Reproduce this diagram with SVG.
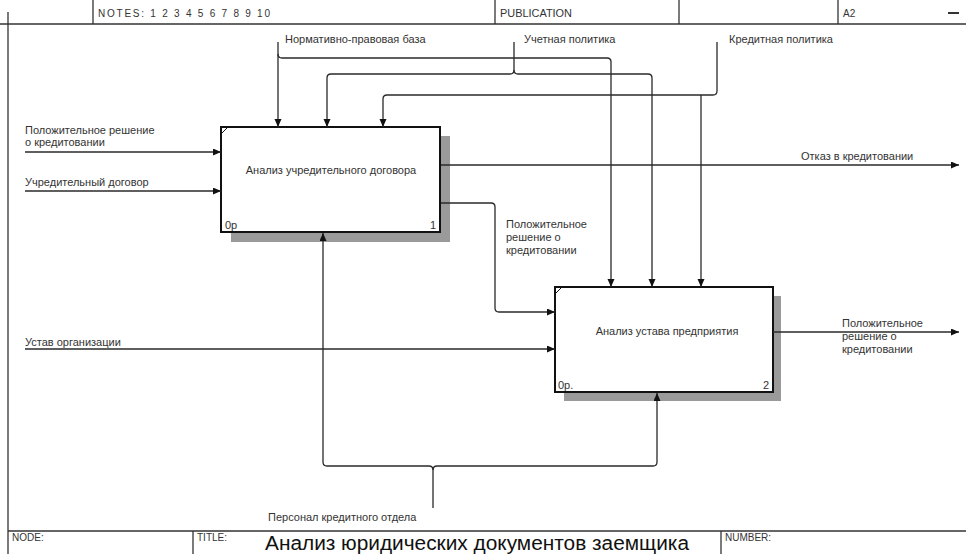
<svg xmlns="http://www.w3.org/2000/svg" width="966" height="554" viewBox="0 0 966 554">
  <style>
    .frame { stroke: #333; stroke-width: 1.3; fill: none; }
    .conn { stroke: #2a2a2a; stroke-width: 1.3; fill: none; }
    .box { fill: #fff; stroke: #111; stroke-width: 2; }
    .shadow { fill: #9a9a9a; }
    .lbl { font-family: "Liberation Sans", Arial, sans-serif; font-size: 11px; fill: #333; }
    .hdr { font-family: "Liberation Sans", Arial, sans-serif; font-size: 10px; fill: #333; }
    .title { font-family: "Liberation Sans", Arial, sans-serif; font-size: 20px; fill: #111; }
  </style>
  <defs>
    <marker id="arr" markerUnits="userSpaceOnUse" markerWidth="9" markerHeight="8" refX="8" refY="3.5" orient="auto">
      <path d="M0,0 L8,3.5 L0,7 z" fill="#111"/>
    </marker>
  </defs>

  <!-- drawing frame: header and footer -->
  <g id="frame">
    <line class="frame" x1="0" y1="24" x2="966" y2="24"/>
    <line class="frame" x1="8" y1="12" x2="8" y2="554"/>
    <line class="frame" x1="93" y1="0" x2="93" y2="24"/>
    <line class="frame" x1="495" y1="0" x2="495" y2="24"/>
    <line class="frame" x1="679" y1="0" x2="679" y2="24"/>
    <line class="frame" x1="838" y1="0" x2="838" y2="24"/>
    <line x1="948" y1="13" x2="959" y2="13" stroke="#333" stroke-width="2"/>
    <text class="hdr" x="98" y="17" textLength="172" lengthAdjust="spacing">NOTES: 1 2 3 4 5 6 7 8 9 10</text>
    <text class="hdr" x="500" y="17" textLength="72" lengthAdjust="spacingAndGlyphs">PUBLICATION</text>
    <text class="hdr" x="843" y="17">A2</text>
    <line class="frame" x1="8" y1="531" x2="966" y2="531"/>
    <line class="frame" x1="193" y1="531" x2="193" y2="554"/>
    <line class="frame" x1="721" y1="531" x2="721" y2="554"/>
    <text class="hdr" x="12" y="541" font-size="9">NODE:</text>
    <text class="hdr" x="197" y="541" font-size="9">TITLE:</text>
    <text class="hdr" x="725" y="541" font-size="9">NUMBER:</text>
    <text class="title" x="265" y="550" textLength="424" lengthAdjust="spacingAndGlyphs">Анализ юридических документов заемщика</text>
  </g>

  <!-- activity 1 -->
  <g id="node-1">
    <rect class="shadow" x="231" y="136" width="219" height="106"/>
    <rect class="box" x="221" y="127" width="219" height="105"/>
    <line x1="222" y1="133" x2="227" y2="128" stroke="#111" stroke-width="1"/>
    <text class="lbl" x="331" y="174" text-anchor="middle" font-size="10.4">Анализ учредительного договора</text>
    <text class="lbl" x="225" y="229" font-size="9">0р</text>
    <text class="lbl" x="436" y="229" font-size="9" text-anchor="end">1</text>
  </g>

  <!-- activity 2 -->
  <g id="node-2">
    <rect class="shadow" x="564" y="296" width="217" height="105"/>
    <rect class="box" x="555" y="287" width="218" height="105"/>
    <line x1="556" y1="293" x2="561" y2="288" stroke="#111" stroke-width="1"/>
    <text class="lbl" x="667" y="335" text-anchor="middle" font-size="10.4">Анализ устава предприятия</text>
    <text class="lbl" x="558" y="389" font-size="9">0р.</text>
    <text class="lbl" x="769" y="389" font-size="9" text-anchor="end">2</text>
  </g>

  <!-- connectors, drawn over the box shadows -->
  <g id="connectors">
    <!-- controls -->
    <path class="conn" d="M278,42 V127" marker-end="url(#arr)"/>
    <path class="conn" d="M278,54 Q278,58 282,58 H607 Q611,58 611,62 V287" marker-end="url(#arr)"/>
    <path class="conn" d="M514,42 V70 Q514,74 510,74 H331 Q327,74 327,78 V127" marker-end="url(#arr)"/>
    <path class="conn" d="M514,70 Q514,74 518,74 H648 Q652,74 652,78 V287" marker-end="url(#arr)"/>
    <path class="conn" d="M717,42 V91 Q717,95 713,95 H387 Q383,95 383,99 V127" marker-end="url(#arr)"/>
    <path class="conn" d="M701,95 V287" marker-end="url(#arr)"/>
    <!-- inputs -->
    <path class="conn" d="M25,152 H221" marker-end="url(#arr)"/>
    <path class="conn" d="M25,191 H221" marker-end="url(#arr)"/>
    <path class="conn" d="M25,349 H555" marker-end="url(#arr)"/>
    <!-- outputs -->
    <path class="conn" d="M441,165 H959" marker-end="url(#arr)"/>
    <path class="conn" d="M441,203 H491 Q495,203 495,207 V308 Q495,312 499,312 H555" marker-end="url(#arr)"/>
    <path class="conn" d="M773,332 H959" marker-end="url(#arr)"/>
    <!-- mechanism -->
    <path class="conn" d="M433,508 V470 Q433,466 429,466 H327 Q323,466 323,462 V233" marker-end="url(#arr)"/>
    <path class="conn" d="M433,470 Q433,466 437,466 H653 Q657,466 657,462 V393" marker-end="url(#arr)"/>
  </g>

  <!-- arrow labels -->
  <g id="labels">
    <text class="lbl" x="285" y="43">Нормативно-правовая база</text>
    <text class="lbl" x="524" y="43">Учетная политика</text>
    <text class="lbl" x="729" y="43">Кредитная политика</text>
    <text class="lbl" x="25" y="134">Положительное решение</text>
    <text class="lbl" x="25" y="146">о кредитовании</text>
    <text class="lbl" x="25" y="186">Учредительный договор</text>
    <text class="lbl" x="801" y="160">Отказ в кредитовании</text>
    <text class="lbl" x="506" y="228">Положительное</text>
    <text class="lbl" x="506" y="241">решение о</text>
    <text class="lbl" x="506" y="254">кредитовании</text>
    <text class="lbl" x="25" y="346">Устав организации</text>
    <text class="lbl" x="842" y="327">Положительное</text>
    <text class="lbl" x="842" y="340">решение о</text>
    <text class="lbl" x="842" y="353">кредитовании</text>
    <text class="lbl" x="268" y="521">Персонал кредитного отдела</text>
  </g>
</svg>
